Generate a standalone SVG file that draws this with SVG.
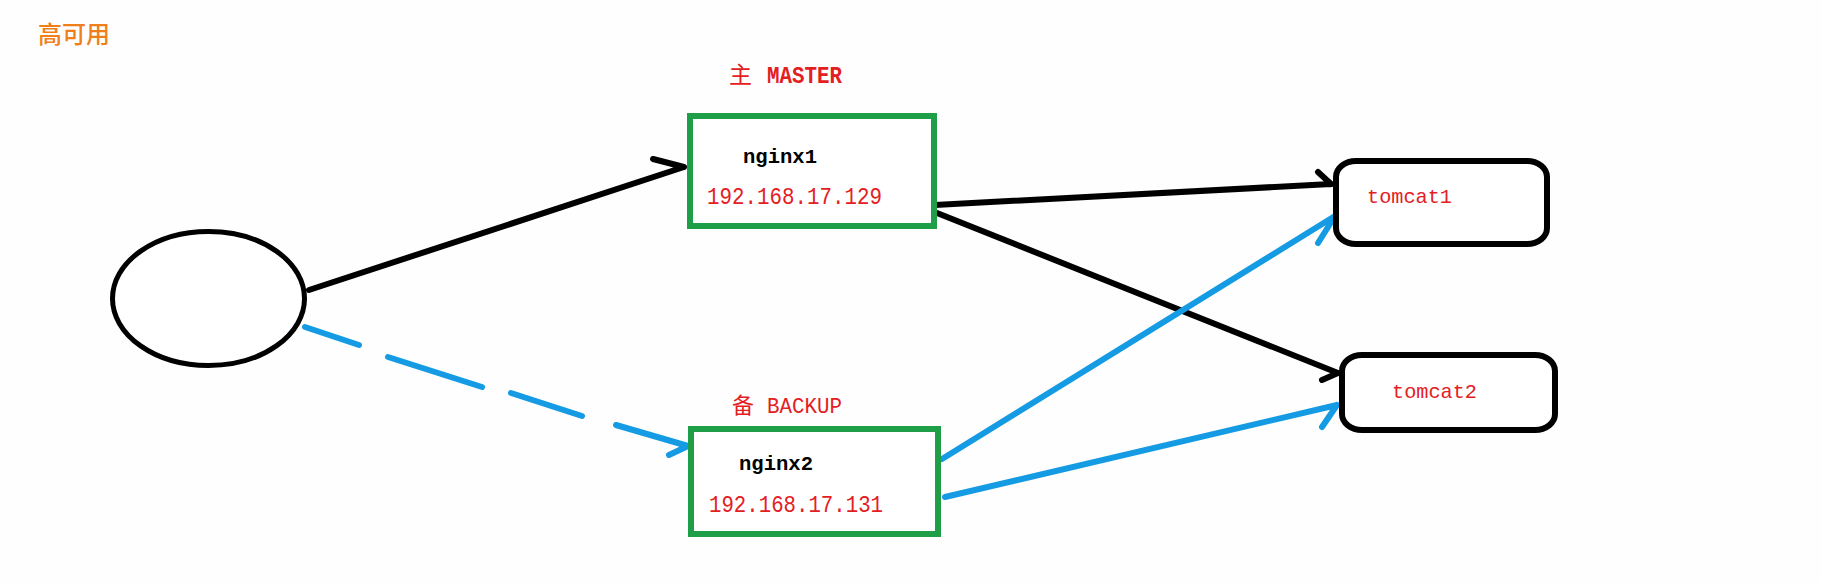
<svg xmlns="http://www.w3.org/2000/svg" width="1821" height="583" viewBox="0 0 1821 583">
<style>
.bg{fill:#fefefe}
.nginx{fill:#fff;stroke:#1f9e48;stroke-width:6}
.tomcat{fill:#fff;stroke:#000;stroke-width:6}
.client{fill:#fff;stroke:#000;stroke-width:5}
.blk{fill:none;stroke:#000;stroke-width:6;stroke-linecap:round;stroke-linejoin:round}
.blu{fill:none;stroke:#149be3;stroke-width:6;stroke-linecap:round;stroke-linejoin:round}
.mono{font-family:"Liberation Mono","Noto Sans CJK SC",monospace}
.red{fill:#e3201f}
.name{font-weight:bold;fill:#000;font-size:21px}
</style>
<rect class="bg" x="0" y="0" width="1821" height="583"/>
<text id="title" x="38" y="43" font-family="'Noto Sans CJK SC',sans-serif" font-size="24" font-weight="500" fill="#ef7f1a">高可用</text>
<g id="connectors">
<path class="blk" d="M309,290 L684,167 M653,159 L684,167"/>
<path class="blu" d="M305,327 L359,345 M388,357 L482,387 M511,393 L582,416 M616,425 L688,446 M669,455 L688,446"/>
<path class="blk" d="M935,205 L1331,184 M1318,172 L1331,184"/>
<path class="blk" d="M937,213 L1338,373 M1322,380 L1338,373"/>
<path class="blu" d="M942,459 L1335,216 M1318,243 L1335,216"/>
<path class="blu" d="M945,497 L1337,405 M1322,427 L1337,405"/>
</g>
<g id="client">
<ellipse class="client" cx="208.5" cy="298.5" rx="96" ry="67"/>
</g>
<g id="nginx1">
<text class="mono red" x="729" y="83" font-size="23">主</text>
<text class="mono red" x="767" y="83" font-size="24" font-weight="bold" textLength="75" lengthAdjust="spacingAndGlyphs">MASTER</text>
<rect class="nginx" x="690" y="116" width="244" height="110"/>
<text class="mono name" x="743" y="163" textLength="74" lengthAdjust="spacingAndGlyphs">nginx1</text>
<text class="mono red" x="707" y="204" font-size="23" textLength="175" lengthAdjust="spacingAndGlyphs">192.168.17.129</text>
</g>
<g id="nginx2">
<text class="mono red" x="732" y="413" font-size="22">备</text>
<text class="mono red" x="767" y="413" font-size="22" textLength="75" lengthAdjust="spacingAndGlyphs">BACKUP</text>
<rect class="nginx" x="691" y="429" width="247" height="105"/>
<text class="mono name" x="739" y="470" textLength="74" lengthAdjust="spacingAndGlyphs">nginx2</text>
<text class="mono red" x="709" y="512" font-size="23" textLength="174" lengthAdjust="spacingAndGlyphs">192.168.17.131</text>
</g>
<g id="tomcat1">
<rect class="tomcat" x="1336" y="161" width="211" height="83" rx="20" ry="16"/>
<text class="mono red" x="1367" y="203" font-size="21" textLength="85" lengthAdjust="spacingAndGlyphs">tomcat1</text>
</g>
<g id="tomcat2">
<rect class="tomcat" x="1342" y="355" width="213" height="75" rx="20" ry="16"/>
<text class="mono red" x="1392" y="398" font-size="21" textLength="85" lengthAdjust="spacingAndGlyphs">tomcat2</text>
</g>
</svg>
